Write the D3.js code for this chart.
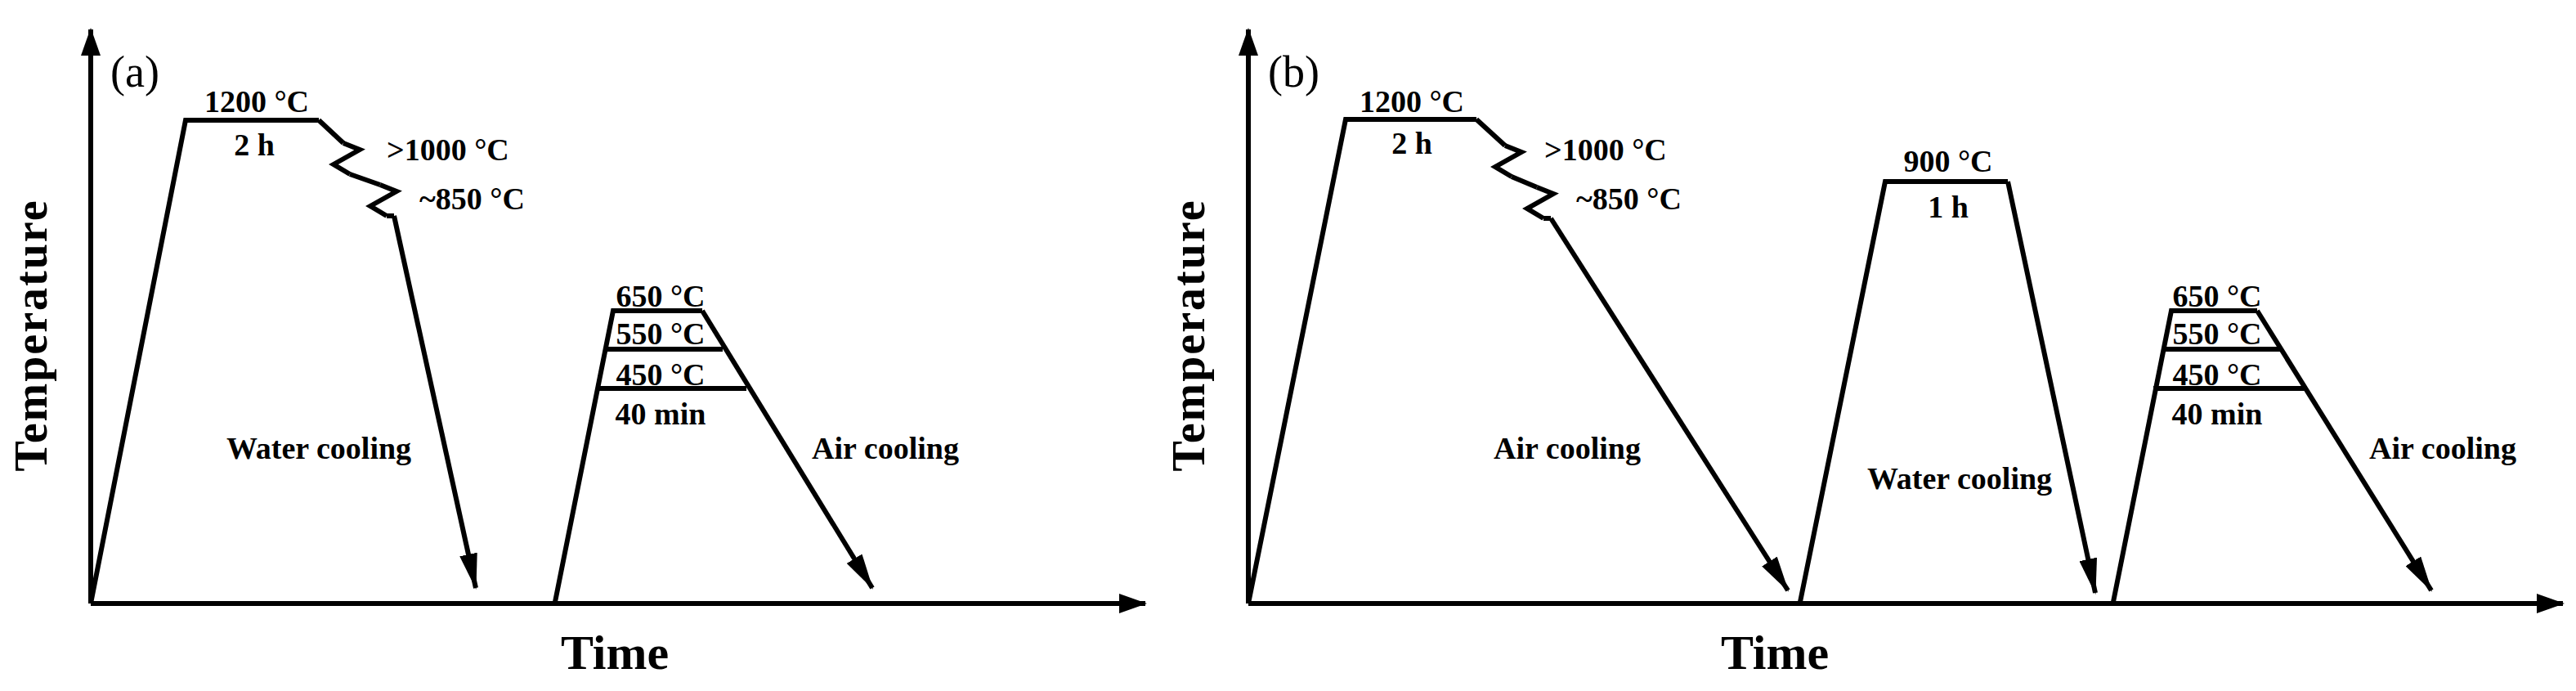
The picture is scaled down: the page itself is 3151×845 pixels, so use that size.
<!DOCTYPE html>
<html><head><meta charset="utf-8">
<script src="https://cdn.jsdelivr.net/npm/d3@7"></script>
<style>body{margin:0;background:#fff}</style></head>
<body><svg id="c" width="3151" height="845"></svg>
<script>
// schematic coordinates: t = time units, T = schematic temperature level
const panelLabels = ["(a)", "(b)"];
const axisTitleX = "Time", axisTitleY = "Temperature";
// Panel (a)
const aHeat = [[0,0],[116,591],[279,591]];
const aBreaks = [[313,544],[358,493]];
const aQuench = [[371,474],[471,19]];
const aTemper = [[568,2],[639,358],[748,358]];
const aTemperLevels = [[632,773,311],[621,802,263]];
const aTemperDown = [[748,358],[956,19]];
// Panel (b)
const bHeat = [[0,0],[119,592],[279,592]];
const bBreaks = [[318,541],[357,490]];
const bCool = [[370,471],[660,16]];
const bAust = [[675,2],[779,516],[929,516]];
const bAustDown = [[929,516],[1036,13]];
const bTemper = [[1058,2],[1129,358],[1234,358]];
const bTemperLevels = [[1121,1265,311],[1107,1295,263]];
const bTemperDown = [[1234,358],[1447,16]];
const labelsA = [["1200 °C",203,614,"middle"],["2 h",200,561,"middle"],[">1000 °C",362,555,"start"],["~850 °C",402,495,"start"],
  ["650 °C",697,376,"middle"],["550 °C",697,330,"middle"],["450 °C",697,280,"middle"],["40 min",697,232,"middle"],
  ["Water cooling",279,190,"middle"],["Air cooling",972,190,"middle"]];
const labelsB = [["1200 °C",200,614,"middle"],["2 h",200,563,"middle"],[">1000 °C",362,555,"start"],["~850 °C",401,495,"start"],
  ["900 °C",856,541,"middle"],["1 h",856,485,"middle"],
  ["650 °C",1185,376,"middle"],["550 °C",1185,330,"middle"],["450 °C",1185,280,"middle"],["40 min",1185,232,"middle"],
  ["Air cooling",390,190,"middle"],["Water cooling",870,153,"middle"],["Air cooling",1461,190,"middle"]];

const svg = d3.select("#c");
const F = "'Liberation Serif','Times New Roman',serif";
const defs = svg.append("defs");
defs.append("marker").attr("id","ax").attr("markerUnits","userSpaceOnUse").attr("viewBox","0 0 34 24")
  .attr("refX",32).attr("refY",12).attr("markerWidth",34).attr("markerHeight",24).attr("orient","auto")
  .append("path").attr("d","M0,0L34,12L0,24Z").attr("fill","#000");
defs.append("marker").attr("id","ar").attr("markerUnits","userSpaceOnUse").attr("viewBox","0 0 44 22")
  .attr("refX",42).attr("refY",11).attr("markerWidth",44).attr("markerHeight",22).attr("orient","auto")
  .append("path").attr("d","M0,0L44,11L0,22Z").attr("fill","#000");

function panel(p){
  const x = d3.scaleLinear().domain([0,1300]).range([p.x0, p.x0+1300]);
  const y = d3.scaleLinear().domain([0,700]).range([738, 38]);
  const g = svg.append("g");
  const line = d3.line().x(d=>x(d[0])).y(d=>y(d[1]));
  const st = s=>s.attr("fill","none").attr("stroke","#000").attr("stroke-width",6).attr("stroke-linejoin","miter");
  st(g.append("path").attr("d",line([[0,0],[0,702]]))).attr("marker-end","url(#ax)");
  st(g.append("path").attr("d",line([[0,0],[p.xEnd,0]]))).attr("marker-end","url(#ax)");
  p.paths.forEach(pt=>{ const e=st(g.append("path").attr("d",line(pt.d))); if(pt.arrow) e.attr("marker-end","url(#ar)"); });
  p.levels.forEach(l=>st(g.append("path").attr("d",line([[l[0],l[2]],[l[1],l[2]]]))));
  const [b1,b2] = p.breaks;
  const start = p.heat[p.heat.length-1];
  const zig = c=>{ const cx=x(c[0]), cy=y(c[1]);
    return [[cx-4,cy-19],[cx+16,cy-11],[cx-16,cy+7],[cx+4,cy+19]]; };
  const pl = d3.line();
  const z1 = zig(b1), z2 = zig(b2);
  st(g.append("path").attr("d",pl([[x(start[0]),y(start[1])],z1[0]])));
  st(g.append("path").attr("d",pl(z1)));
  st(g.append("path").attr("d",pl([z1[3],z2[0]])));
  st(g.append("path").attr("d",pl(z2)));
  st(g.append("path").attr("d",pl([z2[3],[x(p.after[0][0]),y(p.after[0][1])]])));
  p.labels.forEach(l=>g.append("text").attr("x",x(l[1])).attr("y",y(l[2])+13).attr("text-anchor",l[3])
    .attr("font-family",F).attr("font-weight","bold").attr("font-size",38).text(l[0]));
  g.append("text").attr("x",p.x0+24).attr("y",106).attr("font-family",F).attr("font-size",54).text(p.name);
  g.append("text").attr("transform",`translate(${p.x0-54},410) rotate(-90)`).attr("text-anchor","middle")
    .attr("font-family",F).attr("font-weight","bold").attr("font-size",56).attr("letter-spacing",2).text(axisTitleY);
  g.append("text").attr("x",p.tx).attr("y",818).attr("text-anchor","middle")
    .attr("font-family",F).attr("font-weight","bold").attr("font-size",60).text(axisTitleX);
}
panel({x0:111,xEnd:1290,name:panelLabels[0],heat:aHeat,breaks:aBreaks,after:aQuench,labels:labelsA,tx:752,
  levels:aTemperLevels,paths:[{d:aHeat},{d:aQuench,arrow:1},{d:aTemper},{d:aTemperDown,arrow:1}]});
panel({x0:1527,xEnd:1608,name:panelLabels[1],heat:bHeat,breaks:bBreaks,after:bCool,labels:labelsB,tx:2171,
  levels:bTemperLevels,paths:[{d:bHeat},{d:bCool,arrow:1},{d:bAust},{d:bAustDown,arrow:1},{d:bTemper},{d:bTemperDown,arrow:1}]});
</script></body></html>
